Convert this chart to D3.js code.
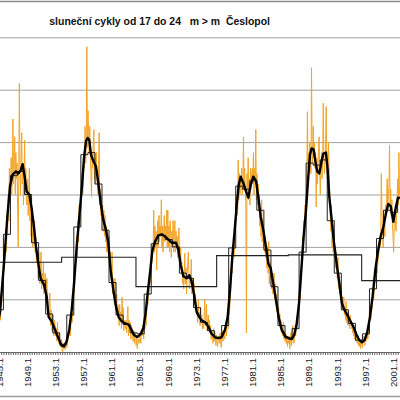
<!DOCTYPE html>
<html><head><meta charset="utf-8">
<script src="https://cdn.jsdelivr.net/npm/d3@7"></script>
<style>html,body{margin:0;padding:0;background:#fff;overflow:hidden}</style>
</head><body>
<svg id="c" width="400" height="400"></svg>
<script>
const titleText = "sluneční cykly od 17 do 24   m > m  Česlopol";

// monthly values (orange), Jan 1945 .. Dec 2001, one row per year
const monthlyStartYear = 1945;
const monthlySSN = [
 28, 35, 42, 30, 55, 48, 70, 62, 90, 78, 100, 95,
 118, 95, 130, 112, 150, 125, 175, 140, 160, 185, 150, 172,
 222, 160, 175, 205, 150, 190, 165, 180, 140, 100, 170, 256,
 175, 150, 185, 209, 160, 180, 140, 170, 202, 150, 175, 145,
 140, 165, 130, 150, 175, 125, 145, 110, 135, 120, 100, 125,
 105, 125, 95, 110, 85, 100, 90, 70, 95, 80, 65, 85,
 95, 60, 75, 70, 85, 55, 65, 75, 50, 60, 70, 45,
 40, 35, 50, 56, 25, 40, 30, 20, 35, 28, 15, 30,
 25, 15, 22, 10, 28, 12, 8, 18, 6, 10, 4, 12,
 1, 0, 8, 3, 6, 2, 5, 10, 4, 8, 12, 15,
 18, 25, 15, 30, 35, 28, 45, 40, 55, 60, 75, 85,
 95, 110, 90, 125, 105, 140, 120, 150, 135, 160, 170, 150,
 160, 190, 175, 215, 180, 200, 291, 195, 230, 210, 190, 215,
 185, 170, 148, 190, 175, 200, 212, 165, 185, 160, 190, 170,
 160, 150, 175, 209, 140, 155, 130, 150, 125, 140, 115, 135,
 110, 130, 105, 120, 95, 115, 100, 90, 110, 80, 95, 75,
 65, 95, 55, 70, 60, 45, 70, 50, 40, 55, 35, 45,
 40, 25, 45, 30, 38, 22, 52, 28, 42, 20, 30, 25,
 22, 30, 18, 35, 43, 15, 30, 20, 28, 12, 25, 18,
 15, 10, 20, 8, 12, 18, 6, 14, 3, 9, 12, 8,
 12, 18, 8, 22, 15, 25, 18, 12, 28, 22, 30, 25,
 40, 50, 45, 60, 55, 75, 65, 80, 90, 85, 100, 95,
 135, 95, 120, 100, 115, 78, 110, 125, 100, 130, 105, 120,
 110, 145, 100, 120, 95, 115, 130, 105, 120, 110, 135, 100,
 135, 100, 120, 95, 125, 110, 90, 115, 100, 125, 95, 110,
 125, 95, 115, 100, 110, 90, 105, 118, 95, 85, 100, 80,
 85, 65, 75, 60, 70, 94, 65, 80, 55, 75, 85, 95,
 75, 60, 70, 65, 88, 55, 70, 60, 50, 65, 45, 55,
 45, 35, 40, 28, 50, 32, 38, 25, 42, 30, 35, 22,
 30, 22, 35, 50, 25, 30, 45, 20, 28, 35, 22, 30,
 18, 25, 12, 20, 15, 8, 22, 10, 18, 14, 6, 16,
 10, 5, 15, 12, 8, 18, 10, 4, 14, 20, 10, 15,
 18, 12, 22, 25, 15, 28, 30, 22, 38, 35, 45, 55,
 70, 85, 75, 95, 105, 90, 120, 110, 140, 125, 150, 130,
 183, 145, 170, 150, 165, 155, 175, 150, 160, 205, 155, 175,
 160, 140, 18, 170, 150, 185, 145, 165, 140, 175, 155, 170,
 175, 160, 190, 150, 175, 165, 212, 145, 170, 140, 160, 135,
 150, 120, 135, 110, 145, 105, 125, 100, 115, 95, 110, 90,
 95, 80, 100, 75, 105, 65, 85, 70, 80, 60, 75, 55,
 60, 75, 50, 65, 45, 55, 38, 48, 32, 42, 28, 36,
 22, 30, 18, 25, 15, 28, 12, 20, 10, 18, 8, 15,
 5, 12, 8, 15, 3, 10, 18, 6, 12, 25, 14, 8,
 12, 20, 15, 25, 30, 22, 35, 40, 48, 55, 50, 70,
 80, 95, 110, 100, 125, 115, 140, 130, 150, 165, 229, 175,
 190, 175, 200, 185, 170, 271, 195, 180, 215, 185, 200, 175,
 190, 138, 185, 160, 175, 195, 205, 170, 150, 175, 190, 165,
 185, 237, 190, 170, 180, 195, 234, 185, 165, 175, 200, 170,
 150, 130, 115, 140, 100, 120, 95, 110, 90, 100, 80, 95,
 85, 70, 90, 60, 75, 55, 65, 50, 58, 45, 52, 40,
 52, 35, 42, 30, 48, 28, 38, 25, 40, 30, 22, 35,
 30, 22, 28, 18, 25, 15, 20, 12, 18, 10, 15, 8,
 10, 6, 12, 5, 9, 3, 12, 7, 4, 10, 15, 8,
 6, 12, 10, 15, 18, 12, 20, 25, 45, 35, 30, 40,
 40, 48, 55, 50, 60, 65, 70, 80, 95, 75, 85, 90,
 95, 110, 100, 115, 170, 135, 120, 100, 130, 125, 110, 140,
 130, 145, 165, 135, 150, 160, 197, 140, 155, 130, 145, 120,
 110, 95, 120, 135, 125, 115, 130, 150, 165, 140, 190, 150
];

// smoothed curve (thick black)
const smoothYears = [1945.0,1945.17,1945.73,1946.21,1946.59,1946.96,1947.44,1947.77,1948.10,1948.38,1948.67,1948.95,1949.33,1949.66,1949.99,1950.28,1950.61,1950.94,1951.41,1951.79,1952.08,1952.50,1952.98,1953.45,1953.92,1954.26,1954.63,1955.01,1955.35,1955.68,1956.06,1956.43,1956.81,1957.10,1957.38,1957.62,1957.85,1958.09,1958.42,1958.80,1959.13,1959.46,1959.84,1960.22,1960.55,1960.88,1961.26,1961.64,1962.02,1962.45,1962.92,1963.39,1963.77,1964.20,1964.67,1965.15,1965.52,1965.86,1966.14,1966.47,1966.80,1967.18,1967.66,1968.13,1968.60,1969.08,1969.55,1970.17,1970.50,1970.83,1971.21,1971.68,1972.06,1972.39,1972.77,1973.10,1973.48,1973.81,1974.28,1974.76,1975.23,1975.70,1976.18,1976.65,1977.13,1977.50,1977.84,1978.17,1978.50,1978.78,1979.07,1979.35,1979.73,1980.11,1980.44,1980.77,1981.15,1981.53,1981.86,1982.19,1982.57,1982.95,1983.28,1983.61,1983.99,1984.37,1984.75,1985.17,1985.65,1986.12,1986.59,1986.97,1987.31,1987.64,1987.97,1988.30,1988.63,1988.96,1989.20,1989.44,1989.72,1990.00,1990.24,1990.52,1990.81,1991.09,1991.47,1991.71,1991.94,1992.28,1992.61,1992.99,1993.37,1993.74,1994.08,1994.50,1994.88,1995.35,1995.83,1996.21,1996.58,1996.96,1997.34,1997.72,1998.10,1998.48,1998.86,1999.24,1999.62,1999.99,2000.32,2000.66,2001.04,2001.37,2001.70,2001.98];
const smoothVals = [32,38,84,129,158,169,172,170,173,179,167,153,150,137,119,100,84,70,64,53,33,29,21,13,6,5,10,21,40,65,100,129,158,185,201,204,202,188,182,177,161,142,126,116,104,78,59,43,33,29,27,26,22,16,14,17,22,37,56,75,96,105,111,112,110,107,104,104,97,83,72,70,73,67,53,38,33,30,28,24,17,14,13,14,21,33,59,91,116,139,159,167,161,153,147,159,167,163,148,129,116,100,84,80,65,49,33,21,15,13,12,16,27,46,78,110,135,167,188,194,193,180,172,170,180,189,190,174,148,126,104,84,65,46,40,35,30,24,16,11,9,11,19,33,53,78,96,110,119,132,141,139,124,137,147,147];

// yearly means (thin black steps), first step starts at annualStart
const annualStart = 1944.65;
const annualMeans = [40,112,168,172,150,104,68,36,18,7,35,119,188,190,160,116,66,35,26,18,17,55,103,111,107,100,75,70,42,28,20,13,25,99,158,155,163,135,97,62,25,13,22,95,180,178,183,125,75,40,27,11,17,60,108,135,133,146];

// cycle means (long thin steps)
const cycleBounds = [1940, 1953.92, 1964.48, 1975.94, 1986.12, 1996.54, 2006];
const cycleMeans = [85.4, 90.1, 62.1, 91.7, 92.4, 67.8];

const gridValues = [50, 100, 150, 200, 250, 300];
const labelYears = [1945,1949,1953,1957,1961,1965,1969,1973,1977,1981,1985,1989,1993,1997,2001];

const svg = d3.select("#c");
const x = d3.scaleLinear().domain([1945, 2002]).range([-1.16, 400.1]);
const y = d3.scaleLinear().domain([0, 300]).range([351.7, 37.3]);

// top border
svg.append("line").attr("x1",0).attr("x2",400).attr("y1",1.5).attr("y2",1.5)
  .attr("stroke","#8a8a8a").attr("stroke-width",1.5);
// bottom border
svg.append("line").attr("x1",0).attr("x2",400).attr("y1",396.5).attr("y2",396.5)
  .attr("stroke","#9a9a9a").attr("stroke-width",1.5);

// gridlines
const grid = svg.append("g").attr("transform","translate(-20,0)")
  .call(d3.axisLeft(y).tickValues(gridValues).tickSize(-440).tickFormat(""));
grid.select(".domain").remove();
grid.selectAll(".tick line").attr("stroke","#a0a0a0").attr("stroke-width",1);

// title
const title = svg.append("text").attr("x",49.3).attr("y",25)
  .attr("font-family","'Liberation Sans', Arial, sans-serif").attr("font-weight","bold")
  .attr("font-size",11).attr("fill","#111").style("white-space","pre")
  .attr("xml:space","preserve").text(titleText);
const tw = title.node().getComputedTextLength();
title.attr("font-size", 11 * 221 / tw);

// orange monthly
const monthly = monthlySSN.map((v,i)=>({t: monthlyStartYear + i/12, v}));
svg.append("path").datum(monthly)
  .attr("fill","none").attr("stroke","#f2a428").attr("stroke-width",1)
  .attr("d", d3.line().x(d=>x(d.t)).y(d=>y(d.v)));

// cycle means
const cyc = cycleMeans.map((v,i)=>({t: cycleBounds[i], v}));
cyc.push({t: cycleBounds[cycleBounds.length-1], v: cycleMeans[cycleMeans.length-1]});
svg.append("path").datum(cyc)
  .attr("fill","none").attr("stroke","#222").attr("stroke-width",1.1)
  .attr("d", d3.line().curve(d3.curveStepAfter).x(d=>x(d.t)).y(d=>y(d.v)));

// annual step line
const ann = annualMeans.map((v,i)=>({t: annualStart + i, v}));
ann.push({t: annualStart + annualMeans.length, v: annualMeans[annualMeans.length-1]});
svg.append("path").datum(ann)
  .attr("fill","none").attr("stroke","#222").attr("stroke-width",1)
  .attr("d", d3.line().curve(d3.curveStepAfter).x(d=>x(d.t)).y(d=>y(d.v)));

// smoothed thick
const sm = smoothYears.map((t,i)=>({t, v: smoothVals[i]}));
svg.append("path").datum(sm)
  .attr("fill","none").attr("stroke","#000").attr("stroke-width",2.4)
  .attr("stroke-linejoin","round")
  .attr("d", d3.line().x(d=>x(d.t)).y(d=>y(d.v)));

// x axis ticks
const tickVals = d3.range(0, 172).map(i => 1945 + i/3);
const ax = svg.append("g").attr("transform","translate(0,352)")
  .call(d3.axisBottom(x).tickValues(tickVals).tickSize(3).tickSizeOuter(0).tickFormat(""));
ax.select(".domain").attr("stroke","#666").attr("stroke-width",1.2);
ax.selectAll(".tick line").attr("stroke","#666");

// labels
const lab = svg.append("g").attr("transform","translate(0,358)")
  .call(d3.axisBottom(x).tickValues(labelYears).tickSize(0).tickFormat(d => d + ".1"));
lab.select(".domain").remove();
lab.selectAll("text")
  .attr("font-family","'Liberation Sans', Arial, sans-serif").attr("font-size",9.5)
  .attr("fill","#222").attr("text-anchor","end")
  .attr("y",0).attr("x",0).attr("dy","0.35em")
  .attr("transform","rotate(-90)");
</script>
</body></html>
